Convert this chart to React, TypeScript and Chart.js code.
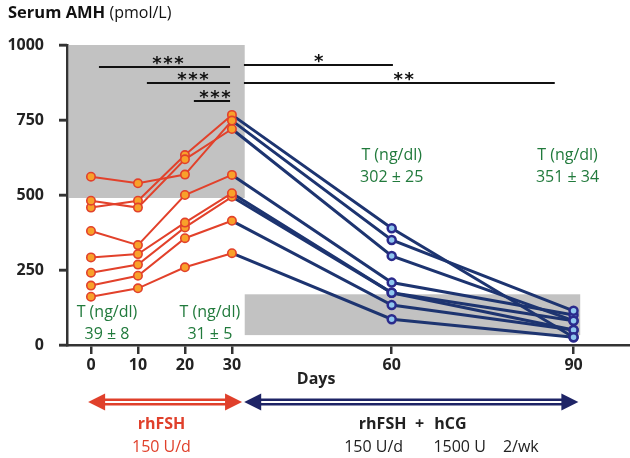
import React, { useEffect, useRef } from 'react';
import { Chart, registerables } from 'chart.js';
Chart.register(...registerables);

// ---------- data ----------
const xTickDays = [0, 10, 20, 30, 60, 90];
const yTickValues = [0, 250, 500, 750, 1000];
const fshDays = [0, 10, 20, 30];
const hcgDays = [30, 60, 90];
// AMH (pmol/L), rhFSH phase, one row per subject
const fshSeries = [
  [561, 539, 568, 748],
  [481, 458, 619, 720],
  [458, 481, 633, 767],
  [380, 333, 500, 567],
  [292, 303, 408, 506],
  [241, 268, 392, 494],
  [198, 231, 356, 414],
  [161, 189, 259, 306],
];
// AMH (pmol/L), rhFSH + hCG phase
const hcgSeries = [
  [748, 350, 114],
  [720, 297, 81],
  [767, 389, 26],
  [567, 208, 100],
  [506, 174, 81],
  [494, 174, 50],
  [414, 133, 50],
  [306, 86, 26],
];
// testosterone annotations
const tDays = [3.4, 25.3, 60, 89];
const tLevels = [110, 110, 633, 633];
const tTitle = 'T (ng/dl)';
const tValues = ['39 ± 8', '31 ± 5', '302 ± 25', '351 ± 34'];
// significance bars
const sigFrom = [1.7, 11.9, 21.9, 32.25, 32.25];
const sigTo = [29.6, 29.6, 29.6, 60.2, 86.9];
const sigLevel = [928, 874, 814, 932, 874];
const sigStars = ['***', '***', '***', '*', '**'];
const sigStarDay = [16.4, 21.7, 26.4, 46.3, 62];
// shaded reference ranges
const shadeFrom = [-6, 32.4];
const shadeTo = [32.4, 91.1];
const shadeLow = [490, 33];
const shadeHigh = [1000, 169];

// piecewise day -> axis position (the original x axis is not linear in days)
const dayBreaks = [0, 30, 60, 90];
const axisBreaks = [0, 30, 64, 102.7];
function toAxis(d: number): number {
  let i = 0;
  if (d >= dayBreaks[2]) i = 2;
  else if (d >= dayBreaks[1]) i = 1;
  const f = (d - dayBreaks[i]) / (dayBreaks[i + 1] - dayBreaks[i]);
  return axisBreaks[i] + f * (axisBreaks[i + 1] - axisBreaks[i]);
}

const FONT = "'Open Sans', 'Noto Sans', sans-serif";
const RED = '#E2412B';
const ORANGE = '#F8A12A';
const NAVY = '#1D3470';
const GREEN = '#217A3C';

const overlayPlugin = {
  id: 'overlay',
  beforeDatasetsDraw(chart: any) {
    const { ctx, chartArea, scales } = chart;
    const xs = scales.x, ys = scales.y;
    const px = (d: number) => xs.getPixelForValue(toAxis(d));
    ctx.save();
    ctx.fillStyle = '#C2C2C2';
    for (let i = 0; i < shadeFrom.length; i++) {
      const x1 = Math.max(px(shadeFrom[i]), chartArea.left + 2);
      const x2 = px(shadeTo[i]);
      const y1 = ys.getPixelForValue(shadeHigh[i]);
      const y2 = ys.getPixelForValue(shadeLow[i]);
      ctx.fillRect(x1, y1, x2 - x1, y2 - y1);
    }
    ctx.restore();
  },
  afterDatasetsDraw(chart: any) {
    const { ctx, scales } = chart;
    const xs = scales.x, ys = scales.y;
    const px = (d: number) => xs.getPixelForValue(toAxis(d));
    ctx.save();
    // significance bars
    ctx.strokeStyle = '#111';
    ctx.lineWidth = 2;
    ctx.fillStyle = '#111';
    ctx.font = `bold 18px 'DejaVu Sans', sans-serif`;
    ctx.textAlign = 'center';
    ctx.textBaseline = 'alphabetic';
    for (let i = 0; i < sigFrom.length; i++) {
      const y = Math.round(ys.getPixelForValue(sigLevel[i]));
      ctx.beginPath();
      ctx.moveTo(px(sigFrom[i]), y);
      ctx.lineTo(px(sigTo[i]), y);
      ctx.stroke();
      const s = sigStars[i];
      const cx = px(sigStarDay[i]);
      const gap = 11;
      const m = ctx.measureText('*');
      const h = m.actualBoundingBoxAscent - m.actualBoundingBoxDescent;
      const cy = y - 7;
      for (let k = 0; k < s.length; k++) {
        const x = cx + (k - (s.length - 1) / 2) * gap;
        ctx.fillText(s[k], x, cy + h / 2);
      }
    }
    // testosterone labels
    ctx.fillStyle = GREEN;
    ctx.font = `16px ${FONT}`;
    ctx.textBaseline = 'middle';
    for (let i = 0; i < tDays.length; i++) {
      const x = px(tDays[i]);
      const y = ys.getPixelForValue(tLevels[i]);
      ctx.fillText(tTitle, x, y);
      ctx.fillText(tValues[i], x, y + 22);
    }
    ctx.restore();
  },
  afterDraw(chart: any) {
    const { ctx, chartArea, scales } = chart;
    const xs = scales.x, ys = scales.y;
    const px = (d: number) => xs.getPixelForValue(toAxis(d));
    const b = chartArea.bottom;
    ctx.save();
    // y tick marks (outside the plot, left of the axis)
    ctx.strokeStyle = '#333';
    ctx.lineWidth = 2.5;
    for (const v of yTickValues) {
      const y = Math.round(ys.getPixelForValue(v));
      ctx.beginPath();
      ctx.moveTo(chartArea.left - 8, y);
      ctx.lineTo(chartArea.left, y);
      ctx.stroke();
    }
    // title
    ctx.textBaseline = 'alphabetic';
    ctx.textAlign = 'left';
    ctx.fillStyle = '#111';
    ctx.font = `bold 16.5px ${FONT}`;
    ctx.fillText('Serum AMH', 8, 18);
    const w = ctx.measureText('Serum AMH ').width;
    ctx.font = `16px ${FONT}`;
    ctx.fillText('(pmol/L)', 8 + w, 18);
    // Days label
    ctx.textAlign = 'center';
    ctx.textBaseline = 'middle';
    ctx.font = `bold 16px ${FONT}`;
    ctx.fillStyle = '#222';
    ctx.fillText('Days', px(45.8), b + 34);

    // arrows
    const drawArrow = (d1: number, d2: number, color: string) => {
      const x1 = px(d1), x2 = px(d2), y = b + 57;
      const head = 17, half = 8.5;
      ctx.fillStyle = color;
      ctx.fillRect(x1 + head - 1, y - 3.5, x2 - x1 - 2 * head + 2, 7);
      ctx.fillStyle = '#fff';
      ctx.fillRect(x1 + head - 1, y - 1, x2 - x1 - 2 * head + 2, 2);
      ctx.fillStyle = color;
      ctx.beginPath();
      ctx.moveTo(x1, y);
      ctx.lineTo(x1 + head, y - half);
      ctx.lineTo(x1 + head, y + half);
      ctx.closePath();
      ctx.fill();
      ctx.beginPath();
      ctx.moveTo(x2, y);
      ctx.lineTo(x2 - head, y - half);
      ctx.lineTo(x2 - head, y + half);
      ctx.closePath();
      ctx.fill();
    };
    drawArrow(-0.6, 31.9, '#E0402B');
    drawArrow(32.3, 90.8, '#1E2466');

    // treatment texts
    ctx.font = `bold 16px ${FONT}`;
    ctx.fillStyle = '#E0402B';
    ctx.fillText('rhFSH', px(15), b + 79);
    ctx.font = `16px ${FONT}`;
    ctx.fillText('150 U/d', px(15), b + 102);
    ctx.fillStyle = '#222';
    ctx.font = `bold 16px ${FONT}`;
    ctx.fillText('rhFSH', px(58.3), b + 79);
    ctx.fillText('+', px(64.6), b + 79);
    ctx.fillText('hCG', px(69.7), b + 79);
    ctx.font = `16px ${FONT}`;
    ctx.fillText('150 U/d', px(56.6), b + 102);
    ctx.fillText('1500 U', px(71.2), b + 102);
    ctx.fillText('2/wk', px(81.3), b + 102);
    ctx.restore();
  },
};

export default function App() {
  const ref = useRef<HTMLCanvasElement | null>(null);
  useEffect(() => {
    document.body.style.margin = '0';
    const datasets: any[] = [];
    fshSeries.forEach((vals, i) => {
      datasets.push({
        label: `FSH ${i + 1}`,
        data: vals.map((v, k) => ({ x: toAxis(fshDays[k]), y: v })),
        borderColor: RED,
        borderWidth: 2,
        pointRadius: 4.2,
        pointBackgroundColor: ORANGE,
        pointBorderColor: RED,
        pointBorderWidth: 1.6,
        order: 0,
      });
    });
    hcgSeries.forEach((vals, i) => {
      datasets.push({
        label: `hCG ${i + 1}`,
        data: vals.map((v, k) => ({ x: toAxis(hcgDays[k]), y: v })),
        borderColor: NAVY,
        borderWidth: 3,
        pointRadius: vals.map((_, k) => (k === 0 ? 0 : 4)),
        pointBackgroundColor: '#8FC6EE',
        pointBorderColor: '#2A2A8C',
        pointBorderWidth: 2.5,
        order: 1,
      });
    });
    const chart = new Chart(ref.current as HTMLCanvasElement, {
      type: 'line',
      data: { datasets },
      plugins: [overlayPlugin],
      options: {
        animation: false,
        responsive: false,
        layout: { autoPadding: false, padding: { top: 45, right: 1, left: 0, bottom: 0 } },
        plugins: { legend: { display: false }, tooltip: { enabled: false }, title: { display: false } },
        scales: {
          x: {
            type: 'linear',
            min: toAxis(-5.1),
            max: 114.5,
            afterFit: (s: any) => { s.height = 113; s.paddingRight = 0; s.paddingLeft = 0; },
            afterBuildTicks: (s: any) => { s.ticks = xTickDays.map((d) => ({ value: toAxis(d) })); },
            ticks: {
              autoSkip: false,
              maxRotation: 0,
              padding: 2,
              color: '#222',
              font: { family: FONT, size: 16, weight: 'bold' },
              callback: (_v: any, i: number) => String(xTickDays[i]),
            },
            grid: { display: true, drawOnChartArea: false, drawTicks: true, tickLength: 9, color: '#333', lineWidth: 2.5, tickColor: '#333', tickWidth: 2.5 },
            border: { display: true, color: '#333', width: 2.5 },
          },
          y: {
            type: 'linear',
            min: 0,
            max: 1000,
            afterFit: (s: any) => { s.width = 67; },
            afterBuildTicks: (s: any) => { s.ticks = yTickValues.map((v) => ({ value: v })); },
            ticks: {
              padding: 15,
              color: '#222',
              font: { family: FONT, size: 16, weight: 'bold' },
              callback: (v: any) => String(v),
            },
            grid: { display: true, drawOnChartArea: false, drawTicks: true, tickLength: 8, color: '#333', lineWidth: 2.5, tickColor: '#333', tickWidth: 2.5 },
            border: { display: true, color: '#333', width: 2.5 },
          },
        },
      } as any,
    });
    return () => chart.destroy();
  }, []);
  return (
    <div style={{ width: 630, height: 458 }}>
      <canvas ref={ref} width={630} height={458} />
    </div>
  );
}
